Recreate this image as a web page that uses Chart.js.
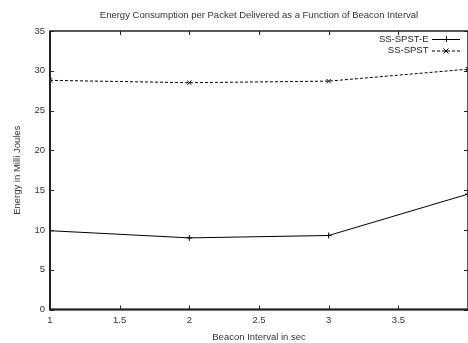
<!DOCTYPE html>
<html>
<head>
<meta charset="utf-8">
<script src="https://cdn.jsdelivr.net/npm/chart.js@4/dist/chart.umd.min.js"></script>
<style>
  html, body { margin: 0; padding: 0; overflow: hidden; background: #fff; }
  #wrap { width: 468px; height: 343px; overflow: hidden; }
</style>
</head>
<body>
<div id="wrap"><canvas id="myChart" width="473" height="343"></canvas></div>
<script>
const chartTitle = "Energy Consumption per Packet Delivered as a Function of Beacon Interval";
const xTitle = "Beacon Interval in sec";
const yTitle = "Energy in Milli Joules";

const beaconIntervals = [1, 2, 3, 4];
const ssSpstE = [9.9, 9.0, 9.3, 14.5];
const ssSpst = [28.8, 28.5, 28.7, 30.2];

const seriesNames = ["SS-SPST-E", "SS-SPST"];
const xTicks = [1, 1.5, 2, 2.5, 3, 3.5, 4];
const yTicks = [0, 5, 10, 15, 20, 25, 30, 35];

const FONT = "'Liberation Sans', Arial, sans-serif";
const FSIZE = 9.5;
const INK = "#222";

const toPoints = function (values) {
  return beaconIntervals.map((x, i) => ({ x: x, y: values[i] }));
};

// gnuplot style frame, inward ticks, title and legend
const gnuplotLook = {
  id: "gnuplotLook",
  afterDatasetsDraw(chart) {
    const ctx = chart.ctx;
    const a = chart.chartArea;
    const xs = chart.scales.x;
    const ys = chart.scales.y;
    ctx.save();

    ctx.strokeStyle = INK;
    ctx.lineWidth = 1;
    xTicks.forEach(v => {
      const px = Math.round(xs.getPixelForValue(v)) + 0.5;
      ctx.beginPath();
      ctx.moveTo(px, a.bottom); ctx.lineTo(px, a.bottom - 4);
      ctx.moveTo(px, a.top); ctx.lineTo(px, a.top + 4);
      ctx.stroke();
    });
    yTicks.forEach(v => {
      const py = Math.round(ys.getPixelForValue(v)) + 0.5;
      ctx.beginPath();
      ctx.moveTo(a.left, py); ctx.lineTo(a.left + 4, py);
      ctx.moveTo(a.right, py); ctx.lineTo(a.right - 4, py);
      ctx.stroke();
    });

    ctx.lineWidth = 1.5;
    ctx.strokeRect(a.left, a.top, a.right - a.left, a.bottom - a.top);
    ctx.lineWidth = 2;
    ctx.beginPath();
    ctx.moveTo(a.left, a.top); ctx.lineTo(a.left, a.bottom); ctx.lineTo(a.right, a.bottom);
    ctx.stroke();

    ctx.fillStyle = "#333";
    ctx.font = FSIZE + "px " + FONT;
    ctx.textAlign = "center";
    ctx.textBaseline = "middle";
    ctx.fillText(chartTitle, (a.left + a.right) / 2, 15);

    // legend
    const rows = [39, 50.5];
    chart.data.datasets.forEach((ds, i) => {
      const y = rows[i];
      ctx.fillStyle = "#222";
      ctx.textAlign = "right";
      ctx.fillText(ds.label, 428.5, y);
      ctx.strokeStyle = "#000";
      ctx.lineWidth = 1;
      ctx.setLineDash(ds.borderDash || []);
      ctx.beginPath();
      ctx.moveTo(432, y + 0.5); ctx.lineTo(460, y + 0.5);
      ctx.stroke();
      ctx.setLineDash([]);
      const m = 446;
      ctx.beginPath();
      if (ds.pointStyle === "cross") {
        ctx.moveTo(m - 3, y + 0.5); ctx.lineTo(m + 3, y + 0.5);
        ctx.moveTo(m + 0.5, y - 3); ctx.lineTo(m + 0.5, y + 3);
      } else {
        ctx.moveTo(m - 2.5, y - 2); ctx.lineTo(m + 2.5, y + 3);
        ctx.moveTo(m + 2.5, y - 2); ctx.lineTo(m - 2.5, y + 3);
      }
      ctx.stroke();
    });
    ctx.restore();
  }
};

const config = {
  type: "line",
  data: {
    datasets: [{
      label: seriesNames[0],
      data: toPoints(ssSpstE),
      borderColor: "#000",
      borderWidth: 1,
      pointStyle: "cross",
      pointRadius: 3,
      pointBorderColor: "#000",
      pointBorderWidth: 1,
      tension: 0
    }, {
      label: seriesNames[1],
      data: toPoints(ssSpst),
      borderColor: "#000",
      borderWidth: 1,
      borderDash: [3, 2],
      pointStyle: "crossRot",
      pointRadius: 3,
      pointBorderColor: "#000",
      pointBorderWidth: 1,
      tension: 0
    }]
  },
  options: {
    responsive: false,
    animation: false,
    layout: { padding: { top: 31, right: 0, left: 0, bottom: 0 } },
    plugins: {
      legend: { display: false },
      title: { display: false },
      tooltip: { enabled: false }
    },
    scales: {
      x: {
        type: "linear",
        min: 1,
        max: 4,
        afterBuildTicks: s => { s.ticks = xTicks.map(v => ({ value: v })); },
        afterFit: s => { s.height = 33.5; },
        grid: { display: false, drawTicks: false },
        border: { display: false },
        ticks: {
          color: "#333",
          font: { family: FONT, size: FSIZE },
          padding: 5,
          maxRotation: 0,
          callback: v => (v === 4 ? "" : v)
        },
        title: {
          display: true,
          text: xTitle,
          color: "#333",
          font: { family: FONT, size: FSIZE },
          padding: { top: 3, bottom: 0 }
        }
      },
      y: {
        min: 0,
        max: 35,
        afterBuildTicks: s => { s.ticks = yTicks.map(v => ({ value: v })); },
        afterFit: s => { s.width = 50; },
        grid: { display: false, drawTicks: false },
        border: { display: false },
        ticks: {
          color: "#333",
          font: { family: FONT, size: FSIZE },
          padding: 5
        },
        title: {
          display: true,
          text: yTitle,
          color: "#333",
          font: { family: FONT, size: FSIZE },
          padding: { top: 12, bottom: 4 }
        }
      }
    }
  },
  plugins: [gnuplotLook]
};

const myChart = new Chart(document.getElementById("myChart"), config);
</script>
</body>
</html>
